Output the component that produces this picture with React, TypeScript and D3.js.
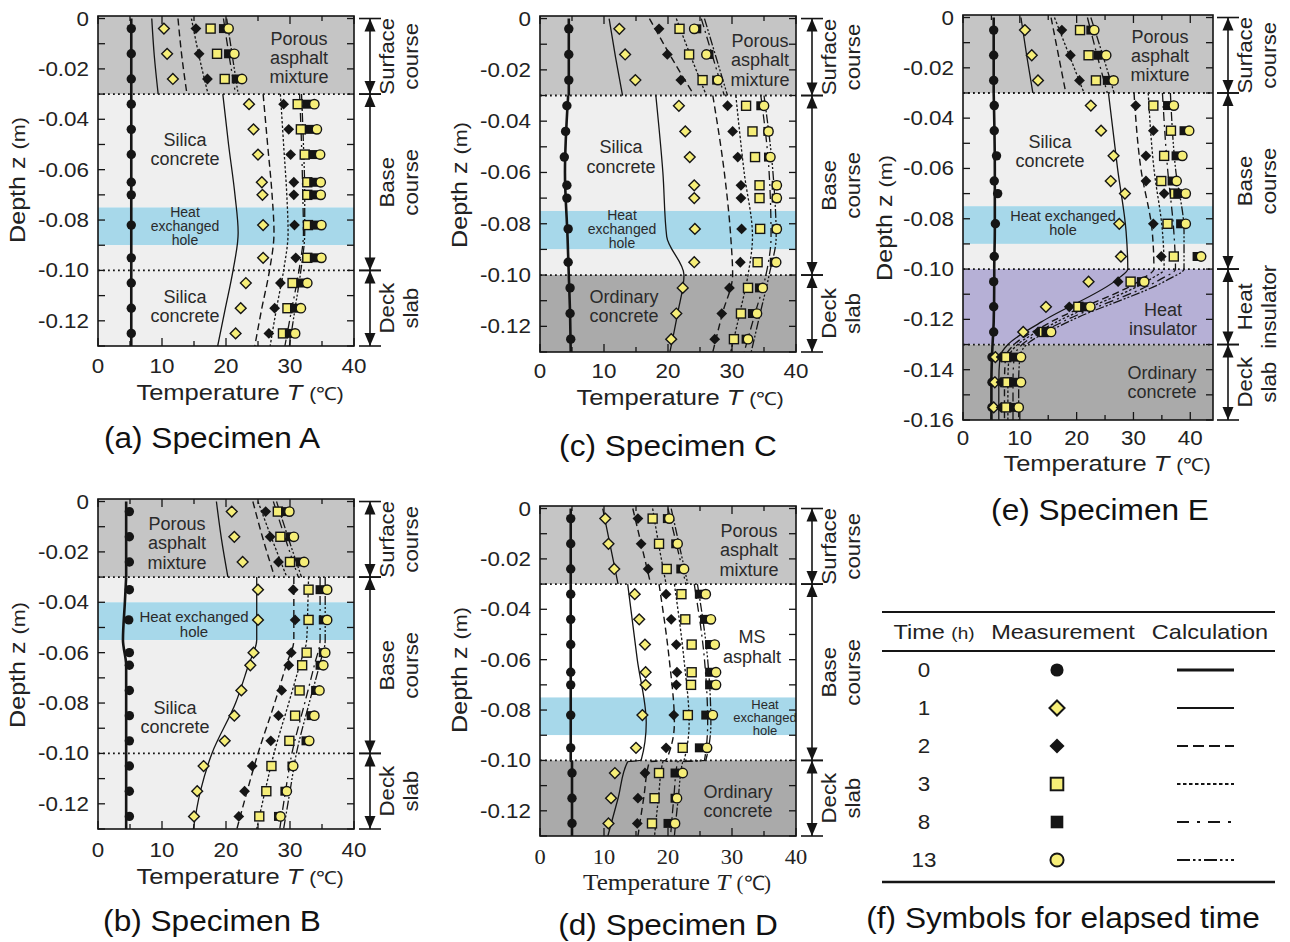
import React from 'react';
import * as d3 from 'd3';

// elapsed times (h) and axis ticks
const times = [0, 1, 2, 3, 8, 13];
const tempTicks = [0, 10, 20, 30, 40];
const depthTicks = [0, -0.02, -0.04, -0.06, -0.08, -0.1, -0.12];
const depthTicksE = [0, -0.02, -0.04, -0.06, -0.08, -0.1, -0.12, -0.14, -0.16];

// Specimen A: measured (rows = times) and calculated profiles
const depthA = [-0.004, -0.014, -0.024, -0.034, -0.044, -0.054, -0.065, -0.07, -0.082, -0.095, -0.105, -0.115, -0.125];
const measA = [
  [5.2, 5.2, 5.2, 5.2, 5.2, 5.2, 5.2, 5.2, 5.2, 5.2, 5.2, 5.2, 5.2],
  [10.3, 10.8, 11.7, 23.6, 24.3, 25.0, 25.6, 25.7, 25.8, 25.8, 23.1, 22.3, 21.5],
  [15.3, 15.8, 17.1, 29.0, 29.8, 30.1, 30.6, 30.6, 30.7, 30.9, 28.5, 27.6, 26.7],
  [17.6, 18.6, 19.8, 31.2, 31.7, 32.3, 32.7, 32.7, 32.8, 32.7, 30.4, 29.6, 28.9],
  [19.6, 20.4, 21.6, 32.7, 33.1, 33.6, 33.7, 33.7, 33.8, 33.8, 31.7, 30.7, 29.9],
  [20.4, 21.3, 22.5, 33.8, 34.2, 34.7, 34.8, 34.8, 34.9, 34.9, 32.7, 31.7, 30.8],
];
const calcDepthA = [0, -0.015, -0.03, NaN, -0.03, -0.05, -0.07, -0.085, -0.1, -0.115, -0.13];
const calcA = [
  [5.2, 5.2, 5.2, NaN, 5.2, 5.2, 5.2, 5.2, 5.2, 5.2, 5.2],
  [8.4, 8.8, 9.4, NaN, 19.5, 20.4, 21.4, 21.9, 21.1, 19.9, 18.7],
  [12.5, 13.1, 13.9, NaN, 25.8, 26.5, 27.2, 27.5, 26.8, 25.6, 24.5],
  [14.6, 15.8, 17.2, NaN, 28.5, 29.0, 29.5, 29.7, 29.0, 27.9, 26.9],
  [19.6, 20.5, 21.5, NaN, 31.5, 31.8, 32.0, 32.1, 31.4, 30.3, 29.2],
  [20.1, 21.0, 21.9, NaN, 31.8, 32.1, 32.3, 32.3, 31.7, 30.8, 29.9],
];

// Specimen B
const depthB = [-0.004, -0.014, -0.024, -0.035, -0.047, -0.06, -0.065, -0.075, -0.085, -0.095, -0.105, -0.115, -0.125];
const measB = [
  [4.9, 4.9, 4.9, 4.9, 4.8, 4.9, 4.9, 4.9, 4.9, 4.9, 4.9, 4.9, 4.9],
  [20.9, 21.3, 22.6, 25.0, 25.0, 24.3, 23.8, 22.4, 21.3, 19.8, 16.5, 15.5, 15.0],
  [26.2, 26.9, 28.2, 30.5, 30.8, 30.2, 29.8, 28.7, 28.2, 27.0, 24.1, 22.9, 22.0],
  [28.1, 28.5, 30.0, 32.9, 32.9, 32.6, 31.9, 31.5, 30.8, 29.9, 27.1, 26.3, 25.2],
  [29.3, 30.0, 31.6, 34.7, 35.2, 35.2, 34.7, 34.0, 33.3, 32.5, 30.3, 29.2, 28.2],
  [29.9, 30.6, 32.2, 35.8, 35.8, 35.5, 35.2, 34.6, 33.8, 33.0, 30.5, 29.5, 28.5],
];
const calcDepthB = [0, -0.015, -0.03, NaN, -0.03, -0.04, -0.055, -0.065, -0.08, -0.1, -0.115, -0.13];
const calcB = [
  [4.4, 4.4, 4.4, NaN, 4.4, 4.2, 3.9, 4.4, 4.4, 4.4, 4.4, 4.4],
  [18.5, 19.3, 20.3, NaN, 24.8, 24.8, 24.8, 23.5, 21.5, 17.8, 16.0, 14.9],
  [24.2, 25.8, 27.6, NaN, 30.6, 30.6, 30.6, 29.4, 27.6, 25.0, 23.3, 21.7],
  [25.0, 27.2, 29.5, NaN, 32.9, 32.8, 32.6, 31.5, 29.8, 27.5, 26.1, 24.8],
  [27.4, 29.3, 31.3, NaN, 34.7, 34.7, 34.7, 33.8, 32.3, 30.3, 29.3, 28.4],
  [27.9, 29.8, 31.8, NaN, 35.5, 35.5, 35.5, 34.6, 33.0, 31.0, 30.0, 29.0],
];

// Specimen C
const depthC = depthA;
const measC = [
  [4.5, 4.5, 4.5, 4.2, 4.0, 3.8, 4.2, 4.2, 4.4, 4.4, 4.7, 4.7, 4.8],
  [12.4, 13.3, 14.9, 21.7, 22.7, 23.4, 24.1, 24.1, 24.2, 24.1, 22.3, 21.3, 20.5],
  [18.6, 19.9, 22.0, 29.3, 30.1, 30.9, 31.4, 31.4, 31.5, 31.3, 29.6, 28.4, 27.3],
  [21.8, 23.3, 25.4, 32.2, 33.2, 33.6, 34.3, 34.3, 34.4, 34.0, 32.5, 31.4, 30.3],
  [24.5, 26.4, 27.6, 34.5, 35.6, 35.7, 36.9, 36.9, 36.9, 36.6, 34.3, 33.2, 32.2],
  [24.1, 26.0, 27.8, 35.0, 35.7, 36.0, 37.0, 37.0, 37.0, 36.9, 34.8, 33.9, 32.5],
];
const calcDepthC = [0, -0.015, -0.03, NaN, -0.03, -0.06, -0.085, -0.1, -0.115, -0.13];
const calcC = [
  [4.5, 4.5, 4.5, NaN, 4.4, 3.9, 4.3, 4.5, 4.7, 4.8],
  [10.8, 11.8, 12.9, NaN, 18.1, 19.2, 19.8, 22.5, 21.5, 20.3],
  [17.1, 20.5, 24.1, NaN, 27.0, 28.8, 29.8, 30.1, 28.5, 27.0],
  [21.3, 23.6, 26.0, NaN, 30.6, 31.9, 33.2, 32.5, 31.2, 29.8],
  [25.2, 27.0, 28.8, NaN, 34.5, 35.8, 36.1, 35.3, 33.6, 31.9],
  [25.7, 27.5, 29.3, NaN, 35.0, 36.4, 36.9, 35.8, 34.4, 33.0],
];

// Specimen D
const depthD = depthA;
const measD = [
  [4.8, 4.8, 4.8, 4.8, 4.8, 4.8, 4.8, 4.8, 4.8, 4.8, 5.0, 5.0, 5.0],
  [10.2, 10.7, 11.6, 14.8, 15.5, 16.4, 16.5, 16.5, 16.0, 15.0, 11.7, 11.1, 10.7],
  [15.3, 15.8, 16.9, 19.7, 20.5, 21.3, 21.4, 21.3, 20.9, 19.7, 16.4, 15.3, 15.2],
  [17.6, 18.6, 19.8, 22.1, 22.7, 23.7, 23.7, 23.6, 23.1, 22.3, 18.6, 17.9, 17.5],
  [19.9, 21.2, 22.0, 24.9, 25.7, 26.5, 26.5, 26.5, 25.9, 24.9, 21.1, 21.1, 20.0],
  [20.2, 21.5, 22.5, 25.9, 26.7, 27.3, 27.5, 27.5, 27.0, 26.1, 22.3, 21.4, 21.1],
];
const calcDepthD = [0, -0.015, -0.03, NaN, -0.03, -0.06, -0.085, -0.1, -0.1005, -0.115, -0.13];
const calcD = [
  [4.8, 4.8, 4.8, NaN, 4.8, 4.8, 4.8, 4.8, 5.0, 5.0, 5.0],
  [9.8, 11.0, 12.2, NaN, 13.7, 15.2, 16.6, 15.8, 13.7, 12.2, 10.6],
  [14.5, 15.9, 17.3, NaN, 18.6, 20.2, 21.0, 19.7, 17.1, 16.2, 15.3],
  [17.6, 18.6, 19.7, NaN, 21.0, 22.5, 23.3, 22.5, 19.2, 18.5, 17.9],
  [20.0, 21.4, 22.8, NaN, 24.1, 25.7, 26.2, 25.7, 21.5, 20.9, 20.4],
  [20.5, 21.8, 23.1, NaN, 24.6, 26.2, 26.7, 25.9, 22.3, 21.6, 21.0],
];

// Specimen E
const depthE = [-0.005, -0.015, -0.025, -0.035, -0.045, -0.055, -0.065, -0.07, -0.082, -0.095, -0.105, -0.115, -0.125, -0.135, -0.145, -0.155];
const measE = [
  [5.4, 5.4, 5.4, 5.5, 5.5, 5.9, 5.5, 6.1, 5.7, 5.5, 5.4, 5.4, 5.4, 5.1, 5.1, 5.1],
  [10.9, 12.1, 13.2, 22.5, 24.3, 26.5, 26.0, 28.5, 27.5, 27.8, 22.1, 14.6, 10.6, 5.7, 5.6, 5.4],
  [17.4, 18.9, 20.5, 30.4, 33.5, 32.2, 32.2, 35.4, 33.5, 34.9, 27.3, 18.7, 13.2, 6.7, 6.7, 6.7],
  [20.6, 22.1, 23.4, 33.5, 36.6, 35.4, 34.9, 37.3, 36.0, 37.1, 29.5, 20.3, 14.2, 7.6, 7.8, 7.6],
  [22.5, 23.8, 25.4, 36.0, 38.9, 37.5, 36.8, 37.8, 38.3, 41.2, 31.4, 21.4, 14.6, 8.9, 8.9, 8.9],
  [23.1, 25.2, 26.5, 37.1, 39.8, 38.6, 37.6, 39.2, 39.2, 41.9, 31.9, 22.4, 15.5, 10.2, 10.2, 9.8],
];
const calcDepthE = [0, -0.015, -0.03, NaN, -0.03, -0.06, -0.085, -0.1, -0.104, -0.121, -0.13, -0.135, -0.145, -0.16];
const calcE = [
  [5.4, 5.4, 5.4, NaN, 5.4, 5.6, 5.6, 5.5, 5.5, 5.4, 5.2, 5.1, 5.0, 5.0],
  [10.2, 11.2, 12.3, NaN, 25.6, 27.2, 28.7, 29.0, 27.2, 13.8, 7.9, 6.5, 6.3, 6.3],
  [15.5, 16.8, 18.1, NaN, 30.1, 31.3, 33.3, 33.6, 31.5, 15.5, 9.0, 7.5, 7.3, 7.3],
  [16.1, 18.7, 21.3, NaN, 32.6, 33.6, 35.1, 35.4, 33.0, 16.5, 9.6, 8.1, 7.9, 7.9],
  [21.9, 23.6, 25.4, NaN, 35.1, 36.0, 37.1, 37.4, 34.8, 17.5, 10.4, 9.0, 8.8, 8.8],
  [22.5, 24.6, 26.6, NaN, 36.5, 37.4, 38.9, 38.9, 36.2, 18.5, 11.2, 10.0, 9.8, 9.8],
];

const SANS = "'Liberation Sans', Arial, Helvetica, sans-serif";
const SERIF = "'Liberation Serif', 'Times New Roman', serif";
const YEL = '#f6ee78';
const INK = '#151515';
const GRAY = '#c5c5c5';
const LIGHT = '#efefef';
const DARK = '#aaaaaa';
const BLUE = '#a7d8ea';
const LAV = '#b6b0d6';
const WHITE = '#ffffff';
const SX = 1.12; // the source figure's lettering is slightly wide

const lineStyles = [
  { w: 2.6, dash: '' },
  { w: 1.3, dash: '' },
  { w: 1.4, dash: '7,4' },
  { w: 1.3, dash: '2.5,2' },
  { w: 1.3, dash: '9,4,2,4' },
  { w: 1.3, dash: '9,2,2,2,2,2' },
];
const legendDash = ['', '', '11,5', '3.5,2.5', '12,8,3,8', '13,3,2.5,3,2.5,3'];

type Layer = { z0: number; z1: number; fill: string };
type Label = { lines: string[]; x: number; y: number; size: number; lh: number };
type Cfg = {
  id: string; x0: number; x1: number; y0: number; y1: number; tMax: number; zMin: number;
  depth: number[]; meas: number[][]; calcDepth: number[]; calc: number[][];
  layers: Layer[]; dotted: number[]; brackets: [number, number, string, string][]; bx: number;
  labels: Label[]; yTicks: number[];
  tickY: number; axisY: number; axisX: number; capX: number; capY: number; caption: string;
  yLabX: number; yLabY: number; serifX?: boolean;
};

function Marker({ kind, x, y, s = 1 }: { kind: number; x: number; y: number; s?: number }) {
  const d = 5.4 * s, q = 4.5 * s, r = 4.7 * s, sw = 1.4 * s;
  const dia = `M${x},${y - d}L${x + d},${y}L${x},${y + d}L${x - d},${y}Z`;
  if (kind === 0) return <circle cx={x} cy={y} r={r} fill={INK} />;
  if (kind === 1) return <path d={dia} fill={YEL} stroke={INK} strokeWidth={sw} />;
  if (kind === 2) return <path d={dia} fill={INK} />;
  if (kind === 3) return <rect x={x - q} y={y - q} width={2 * q} height={2 * q} fill={YEL} stroke={INK} strokeWidth={sw} />;
  if (kind === 4) return <rect x={x - q} y={y - q} width={2 * q} height={2 * q} fill={INK} />;
  return <circle cx={x} cy={y} r={r} fill={YEL} stroke={INK} strokeWidth={sw} />;
}

// text widened horizontally around its anchor point
function WText({ x, y, rot = 0, sx = SX, children, ...rest }: any) {
  const tr = `translate(${x},${y})${rot ? ` rotate(${rot})` : ''} scale(${sx},1)`;
  return <text transform={tr} {...rest}>{children}</text>;
}

function Panel({ c }: { c: Cfg }) {
  const x = d3.scaleLinear().domain([0, c.tMax]).range([c.x0, c.x1]);
  const y = d3.scaleLinear().domain([c.zMin, 0.001]).range([c.y1, c.y0]);
  const line = d3.line<[number, number]>()
    .defined((d) => !isNaN(d[0]) && !isNaN(d[1]))
    .x((d) => x(d[1]))
    .y((d) => y(d[0]))
    .curve(d3.curveMonotoneY);
  const minor = d3.range(0, c.tMax + 0.01, 5);
  const zt = d3.range(0, Math.round(-c.zMin * 100) + 1).map((i) => -i / 100);
  const tickFont = c.serifX ? SERIF : SANS;
  return (
    <g>
      <defs>
        <clipPath id={`clip-${c.id}`}>
          <rect x={c.x0} y={c.y0} width={c.x1 - c.x0} height={c.y1 - c.y0} />
        </clipPath>
      </defs>
      {c.layers.map((l, i) => (
        <rect key={i} x={c.x0} y={y(l.z0)} width={c.x1 - c.x0} height={y(l.z1) - y(l.z0)} fill={l.fill} />
      ))}
      {c.dotted.map((z, i) => (
        <line key={i} x1={c.x0} x2={c.x1} y1={y(z)} y2={y(z)} stroke={INK} strokeWidth={1.8} strokeDasharray="1.8,3.2" />
      ))}
      {c.labels.map((lb, i) => (
        <text key={i} fontFamily={SANS} fontSize={lb.size} fill="#2a2a2a" textAnchor="middle" dominantBaseline="central">
          {lb.lines.map((s, j) => (
            <tspan key={j} x={lb.x} y={lb.y + j * lb.lh}>{s}</tspan>
          ))}
        </text>
      ))}
      <g clipPath={`url(#clip-${c.id})`}>
        {c.calc.map((row, k) => (
          <path key={k} d={line(c.calcDepth.map((z, i) => [z, row[i]] as [number, number])) || ''}
            fill="none" stroke={INK} strokeWidth={lineStyles[k].w} strokeDasharray={lineStyles[k].dash} />
        ))}
        {c.meas.map((row, k) =>
          row.map((t, i) => <Marker key={`${k}-${i}`} kind={k} x={x(t)} y={y(c.depth[i])} />)
        )}
      </g>
      {/* frame and inward ticks */}
      <rect x={c.x0} y={c.y0} width={c.x1 - c.x0} height={c.y1 - c.y0} fill="none" stroke={INK} strokeWidth={1.6} />
      {minor.map((t) => {
        const len = t % 10 === 0 ? 8 : 5;
        return (
          <g key={t}>
            <line x1={x(t)} x2={x(t)} y1={c.y1} y2={c.y1 - len} stroke={INK} strokeWidth={1.3} />
            <line x1={x(t)} x2={x(t)} y1={c.y0} y2={c.y0 + len} stroke={INK} strokeWidth={1.3} />
          </g>
        );
      })}
      {zt.map((z) => (
        <g key={z}>
          <line x1={c.x0} x2={c.x0 + 7} y1={y(z)} y2={y(z)} stroke={INK} strokeWidth={1.3} />
          <line x1={c.x1} x2={c.x1 - 7} y1={y(z)} y2={y(z)} stroke={INK} strokeWidth={1.3} />
        </g>
      ))}
      {tempTicks.map((t) => (
        <WText key={t} x={x(t)} y={c.tickY} fontFamily={tickFont} fontSize={20} textAnchor="middle" fill="#222">{t}</WText>
      ))}
      {c.yTicks.map((z) => (
        <WText key={z} x={c.x0 - 9} y={y(z) + 7} fontFamily={SANS} fontSize={20} textAnchor="end" fill="#222">
          {z === 0 ? '0' : z.toFixed(2)}
        </WText>
      ))}
      <WText x={c.axisX} y={c.axisY} sx={c.serifX ? 1.05 : 1.16} fontFamily={c.serifX ? SERIF : SANS}
        fontSize={c.serifX ? 24 : 22} textAnchor="middle" fill="#222">
        Temperature <tspan fontStyle="italic">T</tspan> <tspan fontSize={c.serifX ? 20 : 18}>(℃)</tspan>
      </WText>
      <WText x={c.yLabX} y={c.yLabY} rot={-90} sx={1.14} fontFamily={SANS} fontSize={22} textAnchor="middle"
        dominantBaseline="central" fill="#222">
        Depth z <tspan fontSize={19}>(m)</tspan>
      </WText>
      <WText x={c.capX} y={c.capY} sx={1.09} fontFamily={SANS} fontSize={29} textAnchor="middle" fill="#111">{c.caption}</WText>
      {/* layer brackets */}
      {c.brackets.map(([za, zb, l1, l2], i) => {
        const ya = y(za), yb = y(zb), bx = c.bx, mid = (ya + yb) / 2;
        return (
          <g key={i}>
            <line x1={bx} x2={bx} y1={ya} y2={yb} stroke={INK} strokeWidth={1.6} />
            <line x1={bx - 11} x2={bx + 11} y1={ya} y2={ya} stroke={INK} strokeWidth={1.6} />
            <line x1={bx - 11} x2={bx + 11} y1={yb} y2={yb} stroke={INK} strokeWidth={1.6} />
            <path d={`M${bx},${ya}L${bx - 5.5},${ya + 13}L${bx + 5.5},${ya + 13}Z`} fill={INK} />
            <path d={`M${bx},${yb}L${bx - 5.5},${yb - 13}L${bx + 5.5},${yb - 13}Z`} fill={INK} />
            <WText x={bx + 17} y={mid} rot={-90} sx={1.06} fontFamily={SANS} fontSize={21}
              textAnchor="middle" dominantBaseline="central" fill="#222">{l1}</WText>
            <WText x={bx + 41} y={mid} rot={-90} sx={1.06} fontFamily={SANS} fontSize={21}
              textAnchor="middle" dominantBaseline="central" fill="#222">{l2}</WText>
          </g>
        );
      })}
    </g>
  );
}

const courses: [number, number, string, string][] = [
  [0, -0.03, 'Surface', 'course'],
  [-0.03, -0.1, 'Base', 'course'],
  [-0.1, -0.13, 'Deck', 'slab'],
];

const panels: Cfg[] = [
  {
    id: 'a', x0: 98, x1: 354, y0: 16, y1: 346, tMax: 40, zMin: -0.13,
    depth: depthA, meas: measA, calcDepth: calcDepthA, calc: calcA,
    layers: [
      { z0: 0.001, z1: -0.03, fill: GRAY }, { z0: -0.03, z1: -0.075, fill: LIGHT },
      { z0: -0.075, z1: -0.09, fill: BLUE }, { z0: -0.09, z1: -0.13, fill: LIGHT },
    ],
    dotted: [-0.03, -0.1], brackets: courses, bx: 370,
    labels: [
      { lines: ['Porous', 'asphalt', 'mixture'], x: 299, y: 39, size: 18, lh: 19 },
      { lines: ['Silica', 'concrete'], x: 185, y: 140, size: 18, lh: 19 },
      { lines: ['Heat', 'exchanged', 'hole'], x: 185, y: 212, size: 14, lh: 14 },
      { lines: ['Silica', 'concrete'], x: 185, y: 297, size: 18, lh: 19 },
    ],
    yTicks: depthTicks, tickY: 373, axisY: 400, axisX: 240, capX: 212, capY: 448, caption: '(a) Specimen A',
    yLabX: 18, yLabY: 180,
  },
  {
    id: 'b', x0: 98, x1: 354, y0: 499, y1: 829, tMax: 40, zMin: -0.13,
    depth: depthB, meas: measB, calcDepth: calcDepthB, calc: calcB,
    layers: [
      { z0: 0.001, z1: -0.03, fill: GRAY }, { z0: -0.03, z1: -0.04, fill: LIGHT },
      { z0: -0.04, z1: -0.055, fill: BLUE }, { z0: -0.055, z1: -0.13, fill: LIGHT },
    ],
    dotted: [-0.03, -0.1], brackets: courses, bx: 370,
    labels: [
      { lines: ['Porous', 'asphalt', 'mixture'], x: 177, y: 524, size: 18, lh: 19.3 },
      { lines: ['Heat exchanged', 'hole'], x: 194, y: 616, size: 15, lh: 14.5 },
      { lines: ['Silica', 'concrete'], x: 175, y: 708, size: 18, lh: 19 },
    ],
    yTicks: depthTicks, tickY: 857, axisY: 884, axisX: 240, capX: 212, capY: 931, caption: '(b) Specimen B',
    yLabX: 18, yLabY: 665,
  },
  {
    id: 'c', x0: 540, x1: 796, y0: 16, y1: 352, tMax: 40, zMin: -0.13,
    depth: depthC, meas: measC, calcDepth: calcDepthC, calc: calcC,
    layers: [
      { z0: 0.001, z1: -0.03, fill: GRAY }, { z0: -0.03, z1: -0.075, fill: LIGHT },
      { z0: -0.075, z1: -0.09, fill: BLUE }, { z0: -0.09, z1: -0.1, fill: LIGHT },
      { z0: -0.1, z1: -0.13, fill: DARK },
    ],
    dotted: [-0.03, -0.1], brackets: courses, bx: 812,
    labels: [
      { lines: ['Porous', 'asphalt', 'mixture'], x: 760, y: 41, size: 18, lh: 19.3 },
      { lines: ['Silica', 'concrete'], x: 621, y: 147, size: 18, lh: 20 },
      { lines: ['Heat', 'exchanged', 'hole'], x: 622, y: 215, size: 14, lh: 14 },
      { lines: ['Ordinary', 'concrete'], x: 624, y: 297, size: 18, lh: 19 },
    ],
    yTicks: depthTicks, tickY: 378, axisY: 405, axisX: 680, capX: 668, capY: 456, caption: '(c) Specimen C',
    yLabX: 460, yLabY: 185,
  },
  {
    id: 'd', x0: 540, x1: 796, y0: 506, y1: 836, tMax: 40, zMin: -0.13,
    depth: depthD, meas: measD, calcDepth: calcDepthD, calc: calcD,
    layers: [
      { z0: 0.001, z1: -0.03, fill: GRAY }, { z0: -0.03, z1: -0.075, fill: WHITE },
      { z0: -0.075, z1: -0.09, fill: BLUE }, { z0: -0.09, z1: -0.1, fill: WHITE },
      { z0: -0.1, z1: -0.13, fill: DARK },
    ],
    dotted: [-0.03, -0.1], brackets: courses, bx: 812,
    labels: [
      { lines: ['Porous', 'asphalt', 'mixture'], x: 749, y: 531, size: 18, lh: 19.3 },
      { lines: ['MS', 'asphalt'], x: 752, y: 637, size: 18, lh: 20 },
      { lines: ['Heat', 'exchanged', 'hole'], x: 765, y: 704, size: 13, lh: 13 },
      { lines: ['Ordinary', 'concrete'], x: 738, y: 792, size: 18, lh: 18.5 },
    ],
    yTicks: depthTicks, tickY: 864, axisY: 890, axisX: 677, capX: 668, capY: 935, caption: '(d) Specimen D',
    yLabX: 460, yLabY: 670, serifX: true,
  },
  {
    id: 'e', x0: 963, x1: 1213, y0: 15, y1: 420, tMax: 44, zMin: -0.16,
    depth: depthE, meas: measE, calcDepth: calcDepthE, calc: calcE,
    layers: [
      { z0: 0.001, z1: -0.03, fill: GRAY }, { z0: -0.03, z1: -0.075, fill: LIGHT },
      { z0: -0.075, z1: -0.09, fill: BLUE }, { z0: -0.09, z1: -0.1, fill: LIGHT },
      { z0: -0.1, z1: -0.13, fill: LAV }, { z0: -0.13, z1: -0.16, fill: DARK },
    ],
    dotted: [-0.03, -0.1, -0.13],
    brackets: [
      [0, -0.03, 'Surface', 'course'],
      [-0.03, -0.1, 'Base', 'course'],
      [-0.1, -0.13, 'Heat', 'insulator'],
      [-0.13, -0.16, 'Deck', 'slab'],
    ],
    bx: 1228,
    labels: [
      { lines: ['Porous', 'asphalt', 'mixture'], x: 1160, y: 37, size: 18, lh: 19 },
      { lines: ['Silica', 'concrete'], x: 1050, y: 142, size: 18, lh: 18.5 },
      { lines: ['Heat exchanged', 'hole'], x: 1063, y: 216, size: 14.5, lh: 14 },
      { lines: ['Heat', 'insulator'], x: 1163, y: 310, size: 18, lh: 18.5 },
      { lines: ['Ordinary', 'concrete'], x: 1162, y: 373, size: 18, lh: 18.5 },
    ],
    yTicks: depthTicksE, tickY: 445, axisY: 471, axisX: 1107, capX: 1100, capY: 520, caption: '(e) Specimen E',
    yLabX: 885, yLabY: 218,
  },
];

function Legend() {
  const rowY = d3.scalePoint<number>().domain(times).range([670, 860]);
  return (
    <g fontFamily={SANS} fill="#222">
      <line x1={882} x2={1275} y1={612} y2={612} stroke={INK} strokeWidth={2} />
      <line x1={882} x2={1275} y1={651} y2={651} stroke={INK} strokeWidth={2.2} />
      <line x1={882} x2={1275} y1={882} y2={882} stroke={INK} strokeWidth={2.6} />
      <WText x={934} y={639} fontSize={21} textAnchor="middle">Time <tspan fontSize={17}>(h)</tspan></WText>
      <WText x={1063} y={639} fontSize={21} textAnchor="middle">Measurement</WText>
      <WText x={1210} y={639} fontSize={21} textAnchor="middle">Calculation</WText>
      {times.map((t, k) => {
        const yy = rowY(t) as number;
        return (
          <g key={t}>
            <WText x={924} y={yy + 7} fontSize={20} textAnchor="middle">{t}</WText>
            <Marker kind={k} x={1057} y={yy} s={1.4} />
            <line x1={1177} x2={1234} y1={yy} y2={yy} stroke={INK}
              strokeWidth={k === 0 ? 3 : 1.8} strokeDasharray={legendDash[k]} />
          </g>
        );
      })}
      <WText x={1063} y={928} sx={1.09} fontSize={29} textAnchor="middle" fill="#111">(f) Symbols for elapsed time</WText>
    </g>
  );
}

export default function App() {
  return (
    <svg width={1290} height={942} style={{ position: 'absolute', left: 0, top: 0, background: '#fff' }}>
      <rect width={1290} height={942} fill="#fff" />
      {panels.map((c) => <Panel key={c.id} c={c} />)}
      <Legend />
    </svg>
  );
}
